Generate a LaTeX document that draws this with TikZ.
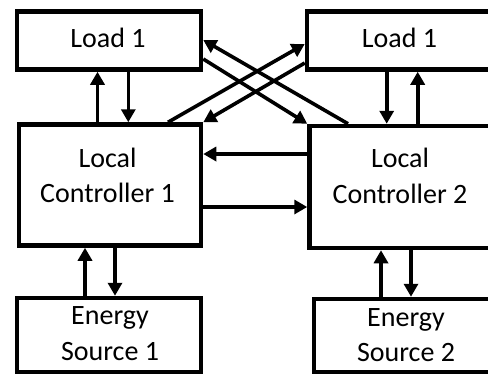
\documentclass[tikz,border=0pt]{standalone}
\usepackage{fontspec}
\setmainfont{Carlito}
\usetikzlibrary{arrows.meta,calc}

\begin{document}
\begin{tikzpicture}[x=1pt,y=-1pt,
  box/.style={draw=black,line width=4.5pt,fill=white,inner sep=0pt},
  lbl/.style={font=\fontsize{28}{35.5}\selectfont,align=center,inner sep=0pt,anchor=base},
  arr/.style={line width=3.6pt,-{Triangle[length=13pt,width=14pt]}}]
  \useasboundingbox (0,0) rectangle (488,376);
  \clip (0,0) rectangle (488,376);
  \fill[white] (0,0) rectangle (488,376);

  % blocks
  \node[box,minimum width=184pt,minimum height=58pt] (l1) at (109,40.5) {};
  \node[box,minimum width=184pt,minimum height=58pt] (l2) at (399,40.5) {};
  \node[box,minimum width=182pt,minimum height=121pt] (c1) at (110,185) {};
  \node[box,minimum width=181pt,minimum height=122pt] (c2) at (400,187) {};
  \node[box,minimum width=184pt,minimum height=74pt] (e1) at (109,335) {};
  \node[box,minimum width=184pt,minimum height=73pt] (e2) at (406,335.5) {};

  % labels (base anchor sits on the last line)
  \node[lbl] (l1t) at (108,47) {Load 1};
  \node[lbl] (l2t) at (399.5,47) {Load 1};
  \node[lbl] (c1t) at (107.5,202.7) {Local\\Controller 1};
  \node[lbl] (c2t) at (400,203.3) {Local\\Controller 2};
  \node[lbl] (e1t) at (110,360) {Energy\\Source 1};
  \node[lbl] (e2t) at (406,361.5) {Energy\\Source 2};

  % loads and controllers
  \draw[arr] (97.5,0 |- c1.north) -- (97.5,0 |- l1.south);
  \draw[arr] (128.3,0 |- l1.south) -- (128.3,0 |- c1.north);
  \draw[arr] (386.7,0 |- l2.south) -- (386.7,0 |- c2.north);
  \draw[arr] (417.7,0 |- c2.north) -- (417.7,0 |- l2.south);

  % crossed links
  \draw[arr] (168,0 |- c1.north) -- (l2.west |- 0,44);
  \draw[arr] (l2.west |- 0,63) -- (c1.north east);
  \draw[arr] (l1.east |- 0,59) -- (c2.north west);
  \draw[arr] (348,0 |- c2.north) -- (l1.east |- 0,40);

  % controller to controller
  \draw[arr] (c2.west |- 0,154) -- (c1.east |- 0,154);
  \draw[arr] (c1.east |- 0,207) -- (c2.west |- 0,207);

  % controllers and sources
  \draw[arr] (85,0 |- e1.north) -- (85,0 |- c1.south);
  \draw[arr] (115,0 |- c1.south) -- (115,0 |- e1.north);
  \draw[arr] (381,0 |- e2.north) -- (381,0 |- c2.south);
  \draw[arr] (411,0 |- c2.south) -- (411,0 |- e2.north);
\end{tikzpicture}
\end{document}
